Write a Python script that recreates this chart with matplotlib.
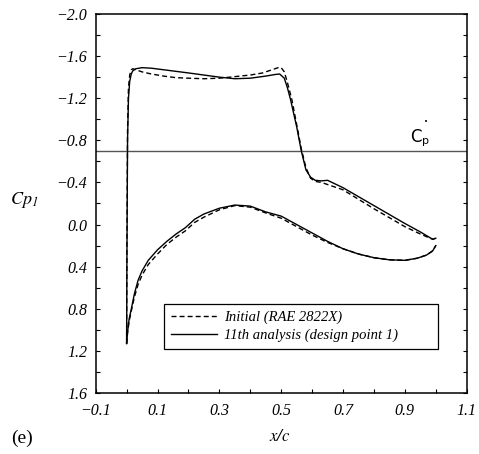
import matplotlib
matplotlib.use("Agg")
import matplotlib.pyplot as plt
from matplotlib.ticker import MultipleLocator, FixedLocator

plt.rcParams['mathtext.fontset'] = 'stix'
plt.rcParams['font.family'] = ['Liberation Serif', 'DejaVu Serif']
plt.rcParams['font.style'] = 'italic'

# ---------------- data ----------------
# 11th analysis (design point 1) - solid
x_up_new = [0.0, 0.001, 0.003, 0.006, 0.01, 0.015, 0.02, 0.03, 0.05, 0.08, 0.12, 0.16, 0.2,
            0.25, 0.3, 0.35, 0.4, 0.45, 0.48, 0.495, 0.51, 0.52, 0.53, 0.55, 0.565, 0.58,
            0.595, 0.61, 0.63, 0.65, 0.7, 0.8, 0.9, 0.95, 0.99, 1.0]
cp_up_new = [1.13, 0.3, -0.8, -1.2, -1.36, -1.43, -1.46, -1.48, -1.49, -1.485, -1.47, -1.455,
             -1.44, -1.42, -1.40, -1.385, -1.39, -1.41, -1.425, -1.43, -1.39, -1.30, -1.19,
             -0.93, -0.70, -0.52, -0.45, -0.42, -0.415, -0.42, -0.35, -0.18, -0.01, 0.07,
             0.14, 0.13]
x_lo_new = [0.0, 0.003, 0.008, 0.016, 0.025, 0.037, 0.05, 0.07, 0.1, 0.13, 0.16, 0.19, 0.22,
            0.25, 0.3, 0.35, 0.4, 0.45, 0.5, 0.55, 0.6, 0.65, 0.7, 0.75, 0.8, 0.85, 0.9,
            0.94, 0.97, 0.99, 1.0]
cp_lo_new = [1.13, 1.02, 0.9, 0.79, 0.66, 0.53, 0.44, 0.34, 0.24, 0.16, 0.09, 0.03, -0.05,
             -0.10, -0.155, -0.185, -0.175, -0.12, -0.08, 0.0, 0.08, 0.16, 0.23, 0.28,
             0.315, 0.335, 0.34, 0.32, 0.29, 0.25, 0.2]

# Initial (RAE 2822X) - dashed
x_up_ini = [0.0, 0.001, 0.003, 0.006, 0.01, 0.015, 0.02, 0.03, 0.05, 0.08, 0.12, 0.16, 0.2,
            0.25, 0.3, 0.35, 0.4, 0.44, 0.47, 0.49, 0.5, 0.51, 0.52, 0.535, 0.55, 0.565,
            0.58, 0.595, 0.61, 0.63, 0.66, 0.7, 0.8, 0.9, 0.95, 0.99, 1.0]
cp_up_ini = [1.13, 0.2, -0.9, -1.3, -1.42, -1.47, -1.48, -1.47, -1.45, -1.43, -1.41, -1.395,
             -1.39, -1.385, -1.39, -1.405, -1.42, -1.44, -1.47, -1.49, -1.49, -1.45, -1.35,
             -1.18, -0.95, -0.72, -0.54, -0.44, -0.41, -0.40, -0.37, -0.33, -0.15, 0.02,
             0.09, 0.14, 0.13]
x_lo_ini = [0.0, 0.003, 0.008, 0.016, 0.025, 0.037, 0.05, 0.07, 0.1, 0.13, 0.16, 0.19, 0.22,
            0.25, 0.3, 0.35, 0.4, 0.45, 0.5, 0.55, 0.6, 0.65, 0.7, 0.75, 0.8, 0.85, 0.9,
            0.94, 0.97, 0.99, 1.0]
cp_lo_ini = [1.13, 1.03, 0.92, 0.81, 0.69, 0.57, 0.48, 0.38, 0.28, 0.19, 0.12, 0.06, -0.02,
             -0.07, -0.14, -0.18, -0.165, -0.11, -0.06, 0.02, 0.10, 0.17, 0.23, 0.28,
             0.315, 0.335, 0.34, 0.32, 0.29, 0.25, 0.2]

cp_star = -0.7
x_ticks = [-0.1, 0.1, 0.3, 0.5, 0.7, 0.9, 1.1]
y_ticks = [-2.0, -1.6, -1.2, -0.8, -0.4, 0.0, 0.4, 0.8, 1.2, 1.6]
label_ini = "Initial (RAE 2822X)"
label_new = "11th analysis (design point 1)"

# ---------------- figure ----------------
fig = plt.figure(figsize=(4.79, 4.54), dpi=100)
ax = fig.add_axes([0.1998, 0.1344, 0.7745, 0.8348])

ax.axhline(cp_star, color='#555555', lw=1.0, zorder=1)

ls_dash = (0, (3.6, 2.2))
ax.plot(x_up_ini, cp_up_ini, color='black', lw=1.0, linestyle=ls_dash, label=label_ini)
ax.plot(x_lo_ini, cp_lo_ini, color='black', lw=1.0, linestyle=ls_dash)
ax.plot(x_up_new, cp_up_new, color='black', lw=1.0, label=label_new)
ax.plot(x_lo_new, cp_lo_new, color='black', lw=1.0)

ax.set_xlim(-0.1, 1.1)
ax.set_ylim(1.6, -2.0)

ax.xaxis.set_major_locator(FixedLocator(x_ticks))
ax.set_xticklabels([f"{v:.1f}".replace('-', '\u2212') for v in x_ticks])
ax.xaxis.set_minor_locator(MultipleLocator(0.1))
ax.yaxis.set_major_locator(FixedLocator(y_ticks))
ax.set_yticklabels([f"{v:.1f}".replace('-', '\u2212') for v in y_ticks])
ax.yaxis.set_minor_locator(MultipleLocator(0.2))

ax.tick_params(which='both', direction='in', length=3, width=0.8,
               top=False, right=True, left=True, bottom=True, labelsize=11.5)
ax.tick_params(axis='x', pad=7)
ax.tick_params(axis='y', pad=6)
for s in ax.spines.values():
    s.set_linewidth(1.1)

leg = ax.legend(loc='lower left', bbox_to_anchor=(0.184, 0.116, 0.739, 0.127),
                mode='expand', borderaxespad=0, fancybox=False, frameon=True,
                edgecolor='black', framealpha=1, handlelength=3.2, handletextpad=0.5,
                prop={'style': 'italic', 'size': 10.5}, labelspacing=0.35,
                borderpad=0.45)
leg.get_frame().set_linewidth(0.9)

# C_p* label (sans-serif, upright)
ax.text(0.936, -0.83, 'C', fontsize=12, family='DejaVu Sans', style='normal',
        ha='center', va='center')
ax.text(0.968, -0.79, 'p', fontsize=8, family='DejaVu Sans', style='normal',
        ha='center', va='center')
ax.text(0.968, -0.975, '\u2022', fontsize=5, family='DejaVu Sans', style='normal',
        ha='center', va='center')

fig.text(24 / 479, 1 - 200 / 454, r'$Cp_1$', fontsize=13, ha='center', va='center')
fig.text(280 / 479, 1 - 437 / 454, r'$x/c$', fontsize=12, ha='center', va='center')
fig.text(22 / 479, 1 - 438 / 454, '(e)', fontsize=14, style='normal',
         ha='center', va='center')

fig.savefig('out.png', dpi=100)
